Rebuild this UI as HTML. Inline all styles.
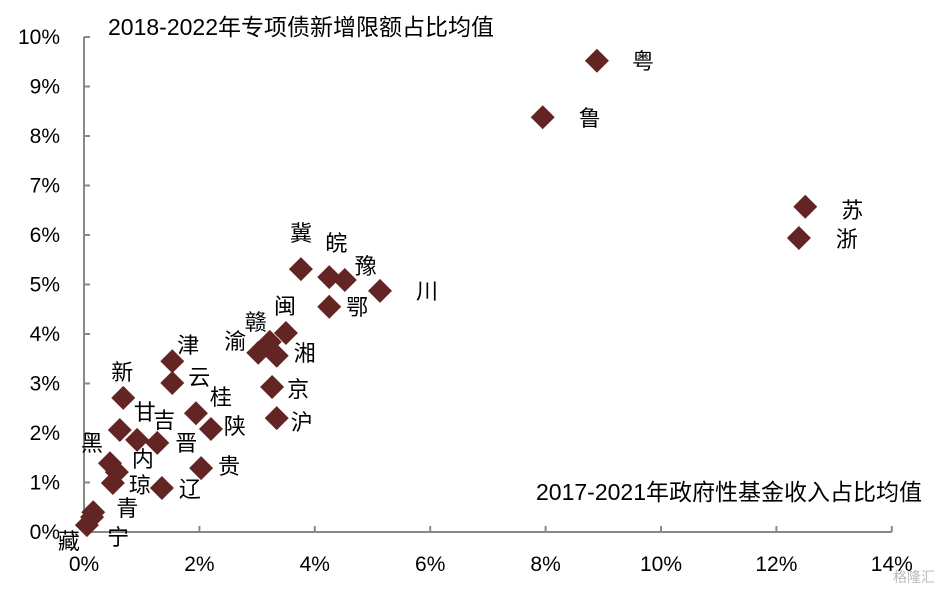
<!DOCTYPE html>
<html><head><meta charset="utf-8"><style>
body{margin:0;background:#fff;width:943px;height:590px;overflow:hidden}
svg{display:block;font-family:"Liberation Sans","Noto Sans CJK SC",sans-serif}
</style></head><body>
<svg id="chart" width="943" height="590" viewBox="0 0 943 590">
<text x="108" y="35" font-size="23" fill="#000">2018-2022年专项债新增限额占比均值</text>
<text x="922" y="500" font-size="23" text-anchor="end" fill="#000">2017-2021年政府性基金收入占比均值</text>
<text x="935" y="582" font-size="14" text-anchor="end" fill="#bbb">格隆汇</text>
<g id="axes"></g><g id="marks"></g>
</svg>
<script>
const provinces=["粤","鲁","苏","浙","川","冀","皖","豫","鄂","闽","赣","渝","湘","京","沪","津","云","桂","陕","新","甘","吉","晋","贵","辽","黑","内","琼","青","宁","藏"];
const fundShare=[8.89,7.95,12.5,12.39,5.13,3.76,4.25,4.52,4.25,3.5,3.22,3.02,3.34,3.26,3.34,1.53,1.53,1.94,2.2,0.68,0.62,0.92,1.27,2.03,1.35,0.45,0.57,0.5,0.16,0.14,0.05];
const bondShare=[9.52,8.38,6.57,5.94,4.87,5.31,5.15,5.09,4.55,4.02,3.84,3.62,3.56,2.93,2.3,3.45,3.01,2.4,2.08,2.71,2.06,1.86,1.8,1.29,0.89,1.39,1.21,0.99,0.4,0.3,0.14];
const xTicks=[0,2,4,6,8,10,12,14];
const yTicks=[0,1,2,3,4,5,6,7,8,9,10];
const labelDx=[46,47,47,48,47,0,7,21,28,-1,-14,-23,28,26,25,16,27,25,24,-1,25,27,29,28,28,-18,26,27,34,26,-18];
const labelDy=[0,1,3,1,0,-36,-34,-14,0,-27,-20,-12,-3,2,4,-16,-6,-16,-3,-26,-18,-20,0,-2,1,-20,-13,2,-4,20,16];
const X=v=>84+v*57.7, Y=v=>532-v*49.5;
const NS="http://www.w3.org/2000/svg";
const ax=document.getElementById('axes'), mk=document.getElementById('marks');
function el(t,a,p){const e=document.createElementNS(NS,t);for(const k in a)e.setAttribute(k,a[k]);p.appendChild(e);return e;}
const yl=el('line',{x1:84,y1:Y(10),x2:84,y2:532,stroke:'#888','stroke-width':2},ax);


const xl=el('line',{x1:84,y1:532,x2:X(14),y2:532,stroke:'#888','stroke-width':2},ax);


yTicks.forEach(v=>{
 el('line',{x1:84,y1:Y(v),x2:90,y2:Y(v),stroke:'#888','stroke-width':2},ax);
 const t=el('text',{x:60,y:Y(v)+7,'font-size':21,'text-anchor':'end'},ax);
 t.textContent=v+'%';
 
 
});
xTicks.forEach(v=>{
 el('line',{x1:X(v),y1:532,x2:X(v),y2:526,stroke:'#888','stroke-width':2},ax);
 const t=el('text',{x:X(v),y:571,'font-size':21,'text-anchor':'middle'},ax);
 t.textContent=v+'%';
 
 
});
provinces.forEach((p,i)=>{
 const cx=X(fundShare[i]), cy=Y(bondShare[i]);
 const d=el('path',{d:`M${cx} ${cy-12}L${cx+12} ${cy}L${cx} ${cy+12}L${cx-12} ${cy}Z`,fill:'#632523'},mk);
 
 
 const t=el('text',{x:cx+labelDx[i],y:cy+labelDy[i]+8,'font-size':22,'text-anchor':'middle'},mk);
 t.textContent=p;
 
 
});
</script>
</body></html>
